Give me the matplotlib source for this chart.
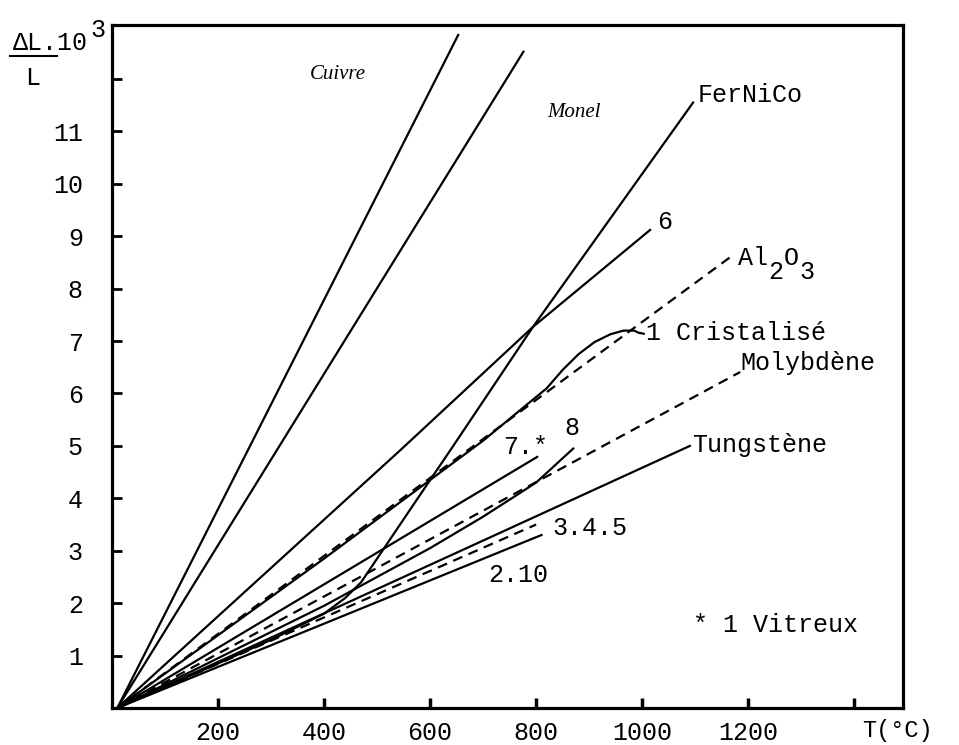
import matplotlib.pyplot as plt
from matplotlib.lines import Line2D

# data: temperature (°C) and relative expansion dL/L x 10^3
cuivre_t = [10, 653]
cuivre_v = [0, 12.84]
monel_t = [10, 776]
monel_v = [0, 12.52]
fernico_t = [10, 200, 300, 400, 440, 470, 500, 540, 580, 637, 794, 1096]
fernico_v = [0, 0.85, 1.3, 1.8, 2.1, 2.4, 2.85, 3.45, 4.05, 4.9, 7.27, 11.55]
six_t = [10, 544, 794, 1015]
six_v = [0, 4.92, 7.27, 9.12]
al2o3_t = [10, 1166]
al2o3_v = [0, 8.6]
cristal_t = [10, 400, 700, 790, 820, 850, 880, 910, 940, 965, 985, 993, 1003]
cristal_v = [0, 2.85, 5.1, 5.85, 6.1, 6.45, 6.75, 6.98, 7.13, 7.2, 7.2, 7.16, 7.14]
moly_t = [10, 1185]
moly_v = [0, 6.41]
seven_t = [10, 802]
seven_v = [0, 4.79]
eight_t = [10, 200, 400, 600, 700, 800, 870]
eight_v = [0, 0.95, 1.95, 3.05, 3.65, 4.3, 4.95]
tungst_t = [10, 1090]
tungst_v = [0, 5.0]
t345_t = [10, 800]
t345_v = [0, 3.5]
t210_t = [10, 810]
t210_v = [0, 3.3]

xticks = [200, 400, 600, 800, 1000, 1200, 1400]
xlabels = ['200', '400', '600', '800', '1000', '1200', '']
yticks = list(range(1, 13))
ylabels = [str(i) for i in range(1, 12)] + ['']

mono = 'Liberation Mono'
fs = 18
dash = (0, (4.5, 3))

fig = plt.figure(figsize=(9.59, 7.45), dpi=100)
ax = fig.add_axes([112 / 959, 1 - 708 / 745, 791 / 959, 683 / 745])

solid = dict(color='black', lw=1.6)
ax.plot(cuivre_t, cuivre_v, **solid)
ax.plot(monel_t, monel_v, **solid)
ax.plot(fernico_t, fernico_v, **solid)
ax.plot(six_t, six_v, **solid)
ax.plot(cristal_t, cristal_v, **solid)
ax.plot(seven_t, seven_v, **solid)
ax.plot(eight_t, eight_v, **solid)
ax.plot(tungst_t, tungst_v, **solid)
ax.plot(t210_t, t210_v, **solid)
ax.plot(al2o3_t, al2o3_v, color='black', lw=1.6, linestyle=dash)
ax.plot(moly_t, moly_v, color='black', lw=1.6, linestyle=dash)
ax.plot(t345_t, t345_v, color='black', lw=1.6, linestyle=dash)

ax.set_xlim(0, 1492)
ax.set_ylim(0, 13.03)
ax.set_xticks(xticks)
ax.set_xticklabels(xlabels, fontfamily=mono, fontsize=fs)
ax.set_yticks(yticks)
ax.set_yticklabels(ylabels, fontfamily=mono, fontsize=fs)
ax.tick_params(axis='x', direction='in', length=7, width=2.5, pad=9)
ax.tick_params(axis='y', direction='in', length=7, width=2, pad=21)
for s in ax.spines.values():
    s.set_linewidth(2.3)

# curve labels
txt = dict(fontfamily=mono, fontsize=fs, va='center')
ax.text(1104, 11.7, 'FerNiCo', **txt)
ax.text(1043, 9.27, '6', ha='center', **txt)
ax.annotate('Al', (1181, 8.59), **txt)
ax.annotate('2', (1181, 8.59), xytext=(22, -10), textcoords='offset points', **txt)
ax.annotate('O', (1181, 8.59), xytext=(33, 0), textcoords='offset points', **txt)
ax.annotate('3', (1181, 8.59), xytext=(44, -10), textcoords='offset points', **txt)
ax.text(1008, 7.16, '1 Cristalisé', **txt)
ax.text(1185, 6.58, 'Molybdène', **txt)
ax.text(1094, 5.02, 'Tungstène', **txt)
ax.text(830, 3.44, '3.4.5', **txt)
ax.text(710, 2.54, '2.10', **txt)
ax.text(738, 4.98, '7.*', **txt)
ax.text(868, 5.34, '8', ha='center', **txt)
ax.text(1096, 1.58, '* 1 Vitreux', **txt)
ax.text(374, 12.08, 'Cuivre', fontfamily='Liberation Serif', style='italic',
        fontsize=15, va='center')
ax.text(821, 11.37, 'Monel', fontfamily='Liberation Serif', style='italic',
        fontsize=15, va='center')

# axis titles
fig.text(13 / 959, 1 - 43 / 745, 'ΔL.10', fontfamily=mono, fontsize=fs, va='center')
fig.text(90 / 959, 1 - 30 / 745, '3', fontfamily=mono, fontsize=fs, va='center')
fig.add_artist(Line2D([10 / 959, 57 / 959], [1 - 56 / 745, 1 - 56 / 745],
                      color='black', lw=1.5))
fig.text(33 / 959, 1 - 78 / 745, 'L', fontfamily=mono, fontsize=fs,
         ha='center', va='center')
fig.text(862 / 959, 1 - 730 / 745, 'T(°C)', fontfamily=mono, fontsize=17, va='center')

fig.savefig('out.png', dpi=100)
